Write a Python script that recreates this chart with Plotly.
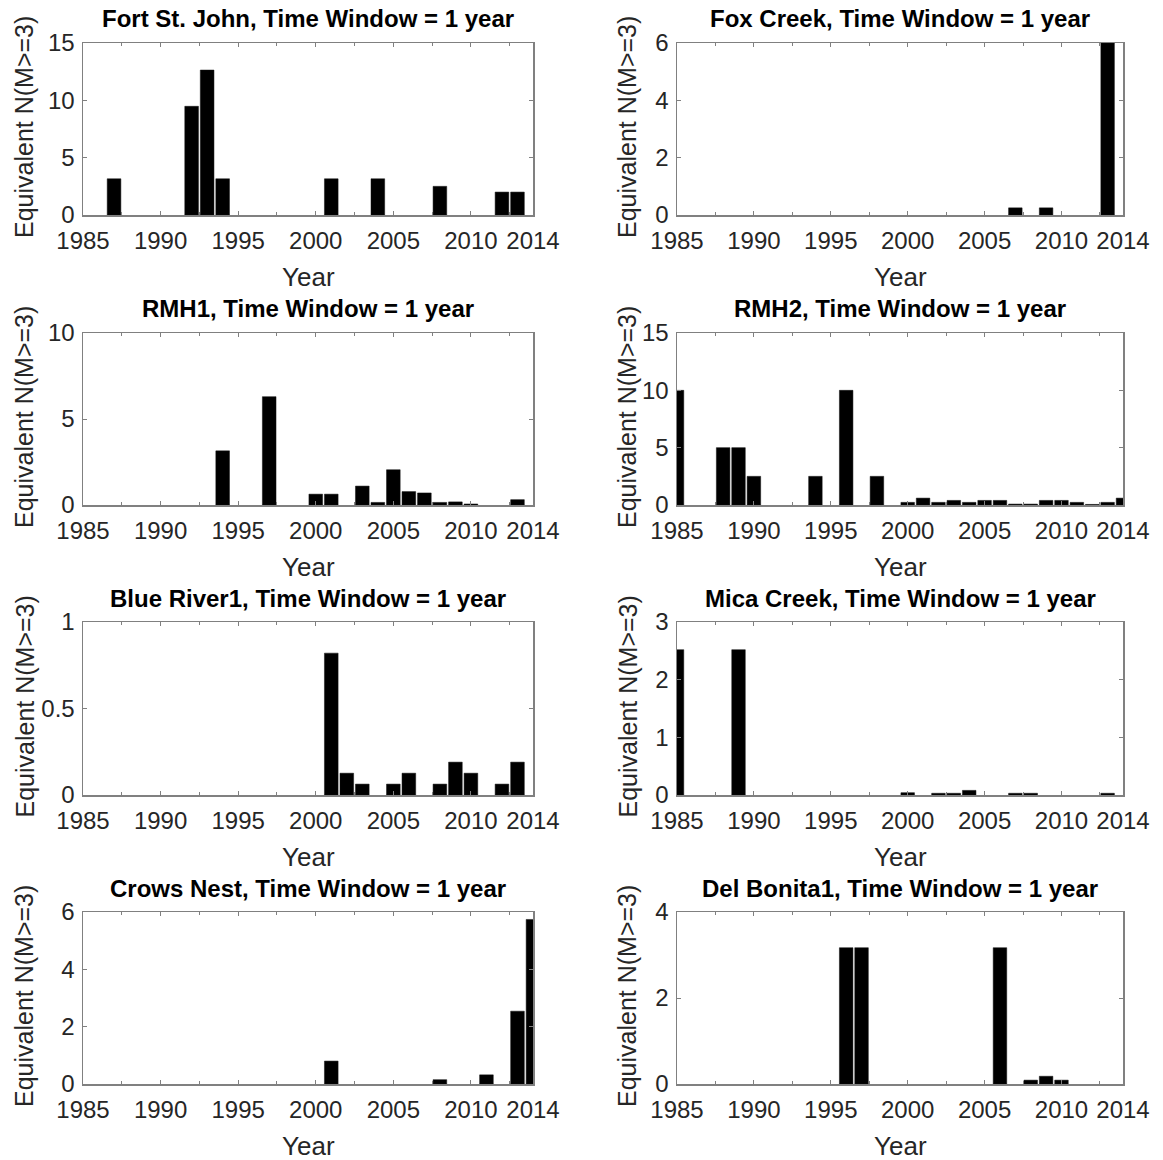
import plotly.graph_objects as go

# ---------------- data ----------------
stations = ["Fort St. John", "Fox Creek", "RMH1", "RMH2",
            "Blue River1", "Mica Creek", "Crows Nest", "Del Bonita1"]

fsj_years = [1987, 1992, 1993, 1994, 2001, 2004, 2008, 2012, 2013]
fsj_vals = [3.16, 9.48, 12.64, 3.16, 3.16, 3.16, 2.5, 2.0, 2.0]

fox_years = [2007, 2009, 2013]
fox_vals = [0.25, 0.25, 6.0]

rmh1_years = [1994, 1997, 2000, 2001, 2003, 2004, 2005, 2006, 2007, 2008, 2009, 2010, 2013]
rmh1_vals = [3.15, 6.3, 0.63, 0.63, 1.1, 0.15, 2.05, 0.78, 0.7, 0.15, 0.18, 0.06, 0.31]

rmh2_years = [1985, 1988, 1989, 1990, 1994, 1996, 1998, 2000, 2001, 2002, 2003, 2004,
              2005, 2006, 2007, 2008, 2009, 2010, 2011, 2012, 2013, 2014]
rmh2_vals = [10.0, 5.0, 5.0, 2.5, 2.5, 10.0, 2.5, 0.23, 0.6, 0.23, 0.4, 0.23,
             0.4, 0.4, 0.08, 0.08, 0.4, 0.4, 0.23, 0.05, 0.23, 0.6]

blue_years = [2001, 2002, 2003, 2005, 2006, 2008, 2009, 2010, 2012, 2013]
blue_vals = [0.82, 0.126, 0.063, 0.063, 0.126, 0.063, 0.19, 0.126, 0.063, 0.19]

mica_years = [1985, 1989, 2000, 2002, 2003, 2004, 2007, 2008, 2013]
mica_vals = [2.52, 2.52, 0.04, 0.03, 0.03, 0.08, 0.03, 0.03, 0.03]

crows_years = [2001, 2008, 2011, 2013, 2014]
crows_vals = [0.8, 0.15, 0.32, 2.54, 5.74]

del_years = [1996, 1997, 2006, 2008, 2009, 2010]
del_vals = [3.17, 3.17, 3.17, 0.09, 0.18, 0.09]

all_years = [fsj_years, fox_years, rmh1_years, rmh2_years,
             blue_years, mica_years, crows_years, del_years]
all_vals = [fsj_vals, fox_vals, rmh1_vals, rmh2_vals,
            blue_vals, mica_vals, crows_vals, del_vals]

y_max = [15, 6, 10, 15, 1, 3, 6, 4]
y_ticks = [[0, 5, 10, 15], [0, 2, 4, 6], [0, 5, 10], [0, 5, 10, 15],
           [0, 0.5, 1], [0, 1, 2, 3], [0, 2, 4, 6], [0, 2, 4]]
y_ticktext = [["0", "5", "10", "15"], ["0", "2", "4", "6"], ["0", "5", "10"],
              ["0", "5", "10", "15"], ["0", "0.5", "1"], ["0", "1", "2", "3"],
              ["0", "2", "4", "6"], ["0", "2", "4"]]
x_ticks = [1985, 1990, 1995, 2000, 2005, 2010, 2014]
x_range = [1985, 2014]

title_suffix = ", Time Window = 1 year"
y_label = "Equivalent N(M>=3)"
x_label = "Year"

# ---------------- layout ----------------
W, H = 1163, 1160
col_px = [(83, 533), (677, 1123)]
row_px = [(43, 215), (333, 505), (622, 795), (912, 1084)]
ylab_x = [24, 627]

FONT = "Liberation Sans, Arial, Helvetica, sans-serif"
TXT = "#262626"
AX = "#808080"
FS = 24

fig = go.Figure()
annotations = []
layout = {}

for i, name in enumerate(stations):
    r, c = divmod(i, 2)
    xa = "x" if i == 0 else f"x{i+1}"
    ya = "y" if i == 0 else f"y{i+1}"
    xkey = "xaxis" if i == 0 else f"xaxis{i+1}"
    ykey = "yaxis" if i == 0 else f"yaxis{i+1}"
    x0, x1 = col_px[c]
    y0, y1 = row_px[r]
    dx = [x0 / W, x1 / W]
    dy = [1 - y1 / H, 1 - y0 / H]

    fig.add_trace(go.Bar(x=all_years[i], y=all_vals[i], width=0.88,
                         marker=dict(color="black", line=dict(width=0.5, color="#111")),
                         xaxis=xa, yaxis=ya, showlegend=False,
                         cliponaxis=True))

    layout[xkey] = dict(domain=dx, anchor=ya, range=x_range, tickvals=x_ticks,
                        ticktext=[str(t) for t in x_ticks], automargin=False,
                        showline=True, linecolor=AX, linewidth=1.5, mirror="ticks",
                        ticks="inside", ticklen=4, tickcolor=AX, tickwidth=1,
                        ticklabelstandoff=4,
                        minor=dict(tickvals=[1987.5, 1992.5, 1997.5, 2002.5, 2007.5, 2012.5],
                                   ticks="inside", ticklen=3, tickcolor=AX),
                        showgrid=False, zeroline=False, fixedrange=True,
                        tickfont=dict(family=FONT, size=FS, color=TXT))
    layout[ykey] = dict(domain=dy, anchor=xa, range=[0, y_max[i]],
                        tickvals=y_ticks[i], ticktext=y_ticktext[i], automargin=False,
                        showline=True, linecolor=AX, linewidth=1.5, mirror="ticks",
                        ticks="inside", ticklen=4, tickcolor=AX, tickwidth=1,
                        ticklabelstandoff=2,
                        showgrid=False, zeroline=False, fixedrange=True,
                        tickfont=dict(family=FONT, size=FS, color=TXT))

    cx = (x0 + x1) / 2 / W
    annotations.append(dict(text=f"<b>{name}{title_suffix}</b>", x=cx,
                            y=1 - (y0 - 24) / H, xref="paper", yref="paper",
                            showarrow=False, xanchor="center", yanchor="middle",
                            font=dict(family=FONT, size=24, color="black")))
    annotations.append(dict(text=x_label, x=cx, y=1 - (y1 + 62) / H,
                            xref="paper", yref="paper", showarrow=False,
                            xanchor="center", yanchor="middle",
                            font=dict(family=FONT, size=26, color=TXT)))
    annotations.append(dict(text=y_label, x=ylab_x[c] / W,
                            y=1 - ((y0 + y1) / 2 - 2) / H,
                            xref="paper", yref="paper", showarrow=False,
                            textangle=-90, xanchor="center", yanchor="middle",
                            font=dict(family=FONT, size=25, color=TXT)))

fig.update_layout(width=W, height=H, margin=dict(l=0, r=0, t=0, b=0, autoexpand=False),
                  paper_bgcolor="white", plot_bgcolor="white",
                  bargap=0, annotations=annotations, **layout)

fig.write_html("out.html", config={"displayModeBar": False, "staticPlot": True},
               post_script="document.body.style.margin='0';document.body.style.padding='0';")
